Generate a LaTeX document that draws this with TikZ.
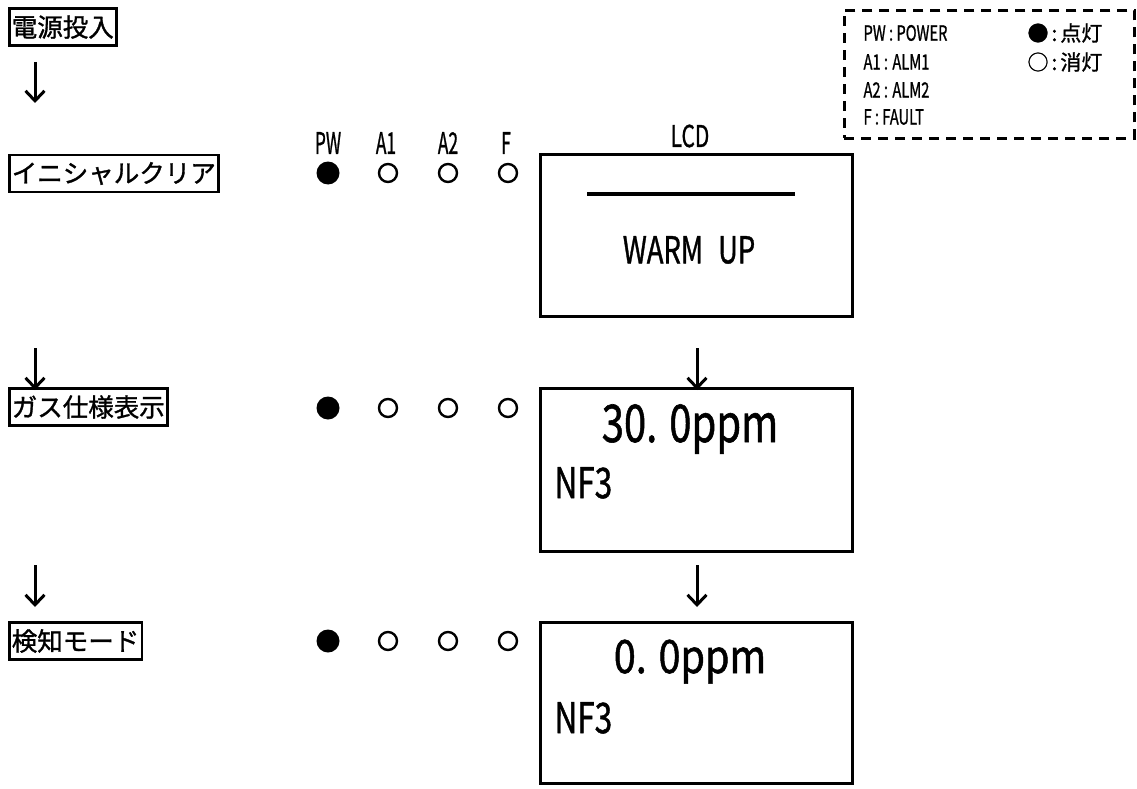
\documentclass[tikz,border=0pt]{standalone}
\usepackage{fontspec}
\setmainfont{Noto Sans CJK JP}[FakeBold=1.2]
\usetikzlibrary{arrows.meta}
\newcommand{\nrw}[2][0.75]{\scalebox{#1}[1]{#2}}
\begin{document}
\begin{tikzpicture}[x=1pt,y=-1pt,
  stepbox/.style={draw,line width=2.6pt,inner xsep=2.5pt,inner ysep=0pt,minimum height=37pt,anchor=west,font=\fontsize{25.5}{26}\selectfont},
  ledon/.style={circle,fill=black,minimum size=23pt,inner sep=0pt},
  ledoff/.style={circle,draw,line width=2.4pt,minimum size=18pt,inner sep=0pt},
  lcdbox/.style={draw,line width=2.6pt,anchor=north west,minimum width=312pt,inner sep=0pt},
  flowarrow/.style={line width=3pt,-{Straight Barb[length=10pt,width=19pt]}},
  ledlabel/.style={font=\fontsize{30}{31}\selectfont},
  legtext/.style={anchor=west,font=\fontsize{21}{22}\selectfont},
]
\useasboundingbox (0,0) rectangle (1137,789);

% step boxes
\node[stepbox] (s1) at (8,27) {電源投入};
\node[stepbox] (s2) at (8,173.5) {イニシャルクリア};
\node[stepbox] (s3) at (8,407) {ガス仕様表示};
\node[stepbox] (s4) at (8,641) {検知モード};

% left arrows
\coordinate (l1a) at (35,62);  \coordinate (l1b) at (35,103);
\coordinate (l2a) at (35,348); \coordinate (l2b) at (35,390);
\coordinate (l3a) at (35,565); \coordinate (l3b) at (35,607);
\draw[flowarrow] (l1a) -- (l1b);
\draw[flowarrow] (l2a) -- (l2b);
\draw[flowarrow] (l3a) -- (l3b);

% LED labels
\node[ledlabel] (hPW) at (328,143) {\nrw[0.58]{PW}};
\node[ledlabel] (hA1) at (386,143) {\nrw[0.58]{A1}};
\node[ledlabel] (hA2) at (448,143) {\nrw[0.58]{A2}};
\node[ledlabel] (hF)  at (506,143) {\nrw[0.58]{F}};
\node[ledlabel] (hLCD) at (690,136) {\nrw[0.7]{LCD}};

% LED rows
\foreach \r/\y in {1/173,2/408,3/641}{
  \node[ledon]  (pw\r) at (328,\y) {};
  \node[ledoff] (a1\r) at (388,\y) {};
  \node[ledoff] (a2\r) at (448,\y) {};
  \node[ledoff] (f\r)  at (508,\y) {};
}

% LCD boxes
\node[lcdbox,minimum height=162pt] (lcd1) at (539,153) {};
\node[lcdbox,minimum height=163pt] (lcd2) at (539,387) {};
\node[lcdbox,minimum height=161pt] (lcd3) at (539,621) {};

\coordinate (bar1) at (587,194); \coordinate (bar2) at (795,194);
\draw[line width=4pt] (bar1) -- (bar2);
\node[font=\fontsize{37}{38}\selectfont] (wu) at (689,250) {\nrw[0.74]{WARM\hspace{0.55em}UP}};

\node[font=\fontsize{52}{53}\selectfont,anchor=base] (v1) at (690,442) {\nrw[0.77]{30. 0ppm}};
\node[font=\fontsize{42}{43}\selectfont,anchor=base west] (g1) at (551,498) {\nrw[0.75]{NF3}};
\node[font=\fontsize{46}{47}\selectfont,anchor=base] (v2) at (690,673) {\nrw[0.86]{0. 0ppm}};
\node[font=\fontsize{42}{43}\selectfont,anchor=base west] (g2) at (551,733) {\nrw[0.75]{NF3}};

% right arrows
\coordinate (r2a) at (697,348); \coordinate (r2b) at (697,390);
\coordinate (r3a) at (697,565); \coordinate (r3b) at (697,607);
\draw[flowarrow] (r2a) -- (r2b);
\draw[flowarrow] (r3a) -- (r3b);

% legend
\node[draw,line width=2.6pt,dash pattern=on 10pt off 7pt,anchor=north west,minimum width=290pt,minimum height=128pt,inner sep=0pt] (leg) at (843,9) {};
\node[legtext] (k1) at (860,33) {\nrw[0.7]{PW : POWER}};
\node[legtext] (k2) at (860,62) {\nrw[0.7]{A1 : ALM1}};
\node[legtext] (k3) at (860,90) {\nrw[0.7]{A2 : ALM2}};
\node[legtext] (k4) at (860,117) {\nrw[0.7]{F : FAULT}};
\node[legtext] (m1) at (1024,33) {●\hspace{3pt}:\hspace{3pt}点灯};
\node[legtext] (m2) at (1024,62) {○\hspace{3pt}:\hspace{3pt}消灯};
\end{tikzpicture}
\end{document}
